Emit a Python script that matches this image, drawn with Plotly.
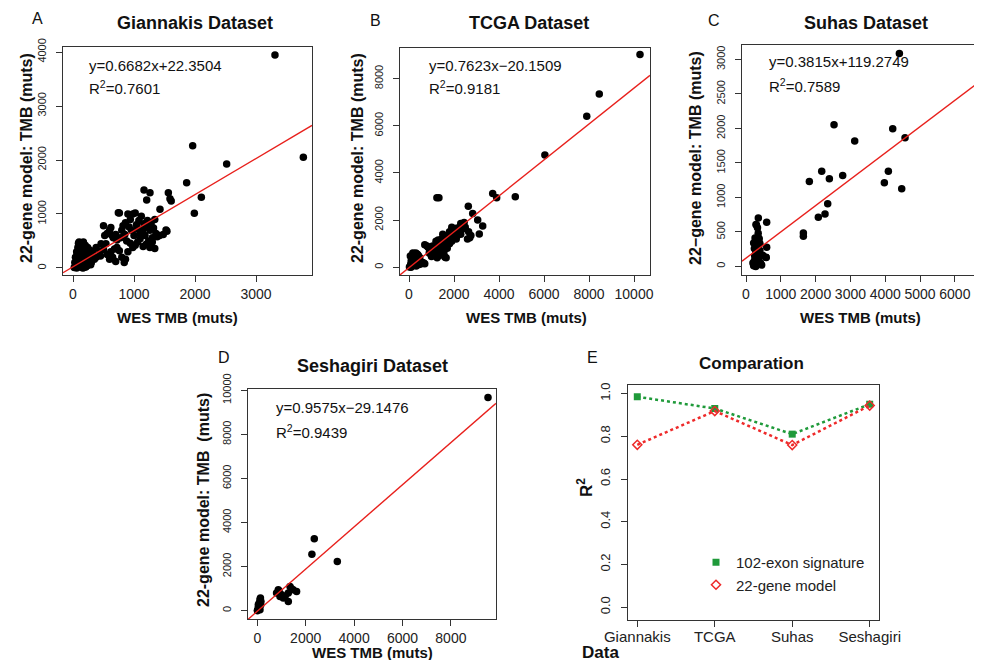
import plotly.graph_objects as go

W, H = 982, 660
OFF = 8  # default page margin of the html body
FONT = "Liberation Sans, Arial, sans-serif"

# ---------------- data ----------------
# Panel A: Giannakis
a_x = [3311, 3776, 1962, 2519, 1863, 2104, 1989, 1164, 1262, 1208, 1563, 1590, 1610, 1426, 743, 1525,
       500, 520, 560, 600, 620, 640, 660, 700, 720, 760, 780, 800, 820, 850, 860, 880, 900, 920, 940, 960,
       980, 1000, 1020, 1040, 1060, 1080, 1100, 1120, 1140, 1160, 1180, 1200, 1220, 1240, 1260, 1280, 1300,
       1320, 1340, 1360, 1380, 1420, 1480, 1540,
       380, 450, 500, 560, 620, 680, 720, 760, 800, 840, 860, 900, 940, 980, 1020, 1060, 1100, 1150, 1200,
       1260, 1340, 1300, 700, 600, 650, 460, 540, 440, 320, 350, 300, 280, 380,
       20, 40, 50, 60, 70, 80, 90, 100, 100, 110, 120, 120, 130, 140, 150, 150, 160, 170, 180, 180, 190,
       200, 200, 210, 220, 230, 240, 250, 260, 270, 280, 290, 300, 60, 80, 90, 100, 130, 140, 160, 170,
       190, 210, 220, 240, 250, 260, 110, 40, 30, 70, 150, 200, 230, 180, 120, 90, 160, 250, 280, 300, 80]
a_y = [3944, 2050, 2265, 1926, 1580, 1309, 1013, 1444, 1395, 1259, 1395, 1284, 1240, 1087, 1025, 703,
       780, 600, 640, 700, 750, 600, 560, 620, 520, 1020, 560, 700, 780, 620, 840, 500, 1000, 760, 900, 700,
       1000, 600, 1020, 800, 720, 880, 640, 960, 700, 820, 600, 760, 880, 500, 700, 820, 560,
       740, 900, 640, 580, 600, 620, 680,
       200, 220, 340, 250, 300, 350, 380, 320, 200, 100, 160, 300, 460, 380, 420, 480, 540, 400, 440,
       380, 360, 480, 120, 160, 200, 450, 450, 300, 280, 160, 220, 300, 380,
       10, 30, 80, 0, 150, 50, 200, 100, 300, 400, 20, 250, 450, 120, 350, 60, 200, 480, 10, 300, 150,
       420, 80, 250, 350, 40, 180, 300, 100, 220, 150, 60, 250, 300, 380, 460, 480, 220, 30, 420, 100,
       350, 20, 140, 380, 60, 320, 160, 200, 100, 270, 170, 190, 280, 380, 330, 60, 0, 180, 330, 100, 240]

# Panel B: TCGA
b_x = [10267, 8457, 7900, 6039, 4724, 3719, 3897, 2636, 2831, 3053, 3276, 3124, 1240, 1330, 1600, 637,
       50, 80, 100, 120, 150, 180, 200, 220, 250, 280, 300, 320, 350, 380, 400, 420, 450, 480, 500, 550,
       600, 650, 60, 130, 170, 240, 270, 330, 360, 440, 90, 20, 700,
       700, 800, 850, 900, 1000, 1050, 1100, 1150, 1200, 1250, 1300, 1350, 1400, 1450, 1500, 1550, 1600,
       1650, 1700, 1750, 1800, 1850, 1900, 1950, 2000, 2050, 2100, 2150, 2200, 2250, 2300, 2350, 2400,
       2450, 1100, 1200, 1300, 1400, 1500, 1600, 1700, 1800, 1900, 2000, 1000, 900, 1250, 1550, 1750,
       2100, 2200, 2300, 2500, 2600, 2650, 2700, 2750, 1350, 1450, 1650, 1050, 950, 1150]
b_y = [9026, 7349, 6400, 4762, 2985, 3129, 2943, 2590, 2283, 2000, 1746, 1408, 2950, 2950, 420, 170,
       30, 150, 300, 60, 450, 200, 550, 100, 380, 250, 600, 50, 420, 180, 520, 300, 120, 400, 250, 150,
       200, 180, 480, 350, 600, 500, 80, 300, 560, 460, 0, 10, 150,
       950, 900, 850, 800, 450, 600, 700, 820, 1100, 950, 750, 500, 1050, 1200, 900, 1100, 1300,
       400, 1200, 1350, 1000, 1450, 1700, 1250, 1400, 1550, 1650, 1350, 1500, 1700, 1850, 1600, 1750,
       1900, 500, 600, 1150, 800, 1400, 950, 800, 1500, 1100, 1300, 800, 600, 400, 600, 1000,
       1200, 1650, 1400, 1700, 1200, 1500, 1250, 1350, 1000, 850, 1100, 900, 700, 550]

# Panel C: Suhas
c_x = [4406, 6724, 2529, 4215, 4569, 3123, 2175, 4090, 1820, 2395, 2778, 3975, 4473, 2347, 2270, 2078,
       1648, 1648, 354, 287, 594, 307, 594, 575,
       200, 220, 240, 250, 260, 280, 290, 300, 310, 320, 330, 340, 350, 360, 370, 380, 400, 420, 450, 480,
       300, 330, 330, 580, 280, 240, 220, 400, 350, 260]
c_y = [3088, 1958, 2054, 1997, 1866, 1817, 1381, 1381, 1231, 1270, 1318, 1212, 1125, 907, 761, 712,
       485, 436, 703, 606, 640, 373, 276, 131,
       50, 10, 80, 150, 30, 200, 320, 120, 250, 380, 60, 300, 420, 180, 100, 400, 230, 50, 20, 160,
       600, 560, 330, 130, 0, 260, 340, 330, 480, 410]

# Panel D: Seshagiri
d_x = [9533, 2355, 2256, 3306, 868, 797, 1004, 1351, 1624, 1281, 1074, 1281, 938, 1400, 1480, 900,
       1150, 110, 130, 41, 110, 0, 80, 60, 150, 140, 30, 100]
d_y = [9675, 3264, 2560, 2225, 948, 797, 722, 1097, 872, 797, 571, 418, 646, 1000, 950, 880,
       650, 497, 570, 271, 45, 0, 350, 150, 420, 250, 100, 200]

# regression equations (slope, intercept) and labels
fits = [(0.6682, 22.3504), (0.7623, -20.1509), (0.3815, 119.2749), (0.9575, -29.1476)]
eq_text = ["y=0.6682x+22.3504", "y=0.7623x\u221220.1509", "y=0.3815x+119.2749", "y=0.9575x\u221229.1476"]
r2_text = ["0.7601", "0.9181", "0.7589", "0.9439"]
titles = ["Giannakis Dataset", "TCGA Dataset", "Suhas Dataset", "Seshagiri Dataset"]
letters = ["A", "B", "C", "D"]
ytitles = ["22-gene model: TMB (muts)", "22-gene model: TMB (muts)",
           "22\u2212gene model: TMB (muts)", "22-gene model: TMB  (muts)"]

# Panel E: comparison
categories = ["Giannakis", "TCGA", "Suhas", "Seshagiri"]
exon102 = [0.985, 0.93, 0.81, 0.95]
gene22 = [0.7601, 0.9181, 0.7589, 0.9439]
e_yticks = [0, 0.2, 0.4, 0.6, 0.8, 1.0]

# ---------------- layout helpers ----------------
FW, FH = W - OFF, H - OFF

def px(x):
    return (x - OFF) / FW

def py(y):
    return 1 - (y - OFF) / FH

panels = [
    dict(xd=(63, 312), yd=(47, 275), xr=[-164, 3918], yr=[-130, 4093],
         xt=[0, 1000, 2000, 3000], yt=[0, 1000, 2000, 3000, 4000],
         letter=(37, 18), title=(195, 23), eq=(87, 65, 88), xtitle=(177, 318), ytitle=(26, 158)),
    dict(xd=(400, 650), yd=(48, 275), xr=[-400, 10711], yr=[-330, 9300],
         xt=[0, 2000, 4000, 6000, 8000, 10000], yt=[0, 2000, 4000, 6000, 8000],
         letter=(375, 20), title=(529, 23), eq=(427, 65, 88), xtitle=(526, 318), ytitle=(357, 158)),
    dict(xd=(742, 982), yd=(45, 275), xr=[-115, 6780], yr=[-125, 3210],
         xt=[0, 1000, 2000, 3000, 4000, 5000, 6000], yt=[0, 500, 1000, 1500, 2000, 2500, 3000],
         letter=(714, 20), title=(866, 23), eq=(767, 62, 86), xtitle=(860, 318), ytitle=(695, 158)),
    dict(xd=(248, 496), yd=(389, 619), xr=[-384, 9863], yr=[-380, 10060],
         xt=[0, 2000, 4000, 6000, 8000], yt=[0, 2000, 4000, 6000, 8000, 10000],
         letter=(224, 357), title=(372, 366), eq=(274, 407, 431), xtitle=(372, 652), ytitle=(203, 500)),
]
data_x = [a_x, b_x, c_x, d_x]
data_y = [a_y, b_y, c_y, d_y]

fig = go.Figure()
annotations = []
AX = "#333333"

def axis_common():
    return dict(showgrid=False, zeroline=False, showline=True, mirror=True, linecolor=AX,
                linewidth=1.2, ticks="outside", ticklen=6, tickcolor=AX, tickwidth=1.2,
                automargin=False)

for i, p in enumerate(panels):
    n = i + 1
    xa = "x" if n == 1 else f"x{n}"
    ya = "y" if n == 1 else f"y{n}"
    fig.add_trace(go.Scatter(x=data_x[i], y=data_y[i], mode="markers", xaxis=xa, yaxis=ya,
                             marker=dict(color="black", size=7.5), showlegend=False, hoverinfo="skip"))
    s, b = fits[i]
    lx = p["xr"]
    fig.add_trace(go.Scatter(x=lx, y=[s * v + b for v in lx], mode="lines", xaxis=xa, yaxis=ya,
                             line=dict(color="#e8201c", width=1.4), showlegend=False, hoverinfo="skip"))
    xk = "xaxis" if n == 1 else f"xaxis{n}"
    yk = "yaxis" if n == 1 else f"yaxis{n}"
    fig.update_layout(**{
        xk: dict(domain=[px(p["xd"][0]), px(p["xd"][1])], range=p["xr"], anchor=ya,
                 tickvals=p["xt"], ticktext=[str(v) for v in p["xt"]], tickangle=0,
                 tickfont=dict(size=14, color="#222"), **axis_common()),
        yk: dict(domain=[py(p["yd"][1]), py(p["yd"][0])], range=p["yr"], anchor=xa,
                 tickvals=p["yt"], ticktext=[str(v) for v in p["yt"]], tickangle=-90,
                 ticklabelstandoff=6, tickfont=dict(size=11, color="#222"), **axis_common()),
    })
    annotations += [
        dict(text=letters[i], x=px(p["letter"][0]), y=py(p["letter"][1]), font=dict(size=16)),
        dict(text=f"<b>{titles[i]}</b>", x=px(p["title"][0]), y=py(p["title"][1]), font=dict(size=18)),
        dict(text=eq_text[i], x=px(p["eq"][0]), y=py(p["eq"][1]), xanchor="left", font=dict(size=15)),
        dict(text=f"R<sup>2</sup>={r2_text[i]}", x=px(p["eq"][0]), y=py(p["eq"][2]), xanchor="left",
             font=dict(size=15)),
        dict(text="<b>WES TMB (muts)</b>", x=px(p["xtitle"][0]), y=py(p["xtitle"][1]), font=dict(size=15)),
        dict(text=f"<b>{ytitles[i]}</b>", x=px(p["ytitle"][0]), y=py(p["ytitle"][1]), textangle=-90,
             font=dict(size=16)),
    ]

# Panel E
GREEN = "#1f9a3a"
RED = "#ee2a2a"
fig.add_trace(go.Scatter(x=categories, y=exon102, mode="lines+markers", xaxis="x5", yaxis="y5",
                         line=dict(color=GREEN, width=2.5, dash="dot"),
                         marker=dict(symbol="square", size=7, color=GREEN), showlegend=False))
fig.add_trace(go.Scatter(x=categories, y=gene22, mode="lines+markers", xaxis="x5", yaxis="y5",
                         line=dict(color=RED, width=2.5, dash="dot"),
                         marker=dict(symbol="diamond-open", size=7, color=RED, line=dict(width=1.5)),
                         showlegend=False))
fig.add_trace(go.Scatter(x=[None], y=[None], mode="markers", xaxis="x5", yaxis="y5",
                         marker=dict(symbol="square", size=7, color=GREEN), name="102-exon signature"))
fig.add_trace(go.Scatter(x=[None], y=[None], mode="markers", xaxis="x5", yaxis="y5",
                         marker=dict(symbol="diamond-open", size=7, color=RED, line=dict(width=1.5)),
                         name="22-gene model"))
fig.update_layout(
    xaxis5=dict(domain=[px(628), px(879)], range=[-0.12, 3.12], anchor="y5", type="category",
                tickangle=0, ticklabelstandoff=-3, tickfont=dict(size=15, color="#222"), **axis_common()),
    yaxis5=dict(domain=[py(620), py(385)], range=[-0.06, 1.04], anchor="x5",
                tickvals=e_yticks, ticktext=[f"{v:.1f}" for v in e_yticks], ticklabelstandoff=6,
                tickangle=-90, tickfont=dict(size=13, color="#222"), **axis_common()),
)
annotations += [
    dict(text="E", x=px(592), y=py(357), font=dict(size=16)),
    dict(text="<b>Comparation</b>", x=px(751), y=py(363), font=dict(size=17)),
    dict(text="<b>Data</b>", x=px(600), y=py(652), font=dict(size=17)),
    dict(text="<b>R<sup>2</sup></b>", x=px(585), y=py(488), textangle=-90, font=dict(size=17)),
]
for a in annotations:
    a.setdefault("xref", "paper")
    a.setdefault("yref", "paper")
    a.setdefault("showarrow", False)
    a.setdefault("xanchor", "center")
    a.setdefault("yanchor", "middle")
    a["font"] = dict(family=FONT, color="#111", **a["font"])

fig.update_layout(
    template="none",
    width=FW, height=FH, margin=dict(l=0, r=0, t=0, b=0, pad=0, autoexpand=False),
    paper_bgcolor="white", plot_bgcolor="white",
    font=dict(family=FONT, color="#222"),
    annotations=annotations,
    showlegend=True,
    legend=dict(x=px(696), y=py(546), xanchor="left", yanchor="top", bgcolor="rgba(0,0,0,0)",
                font=dict(size=15, family=FONT, color="#222"), itemwidth=30, tracegroupgap=0),
)

fig.write_html("out.html")
